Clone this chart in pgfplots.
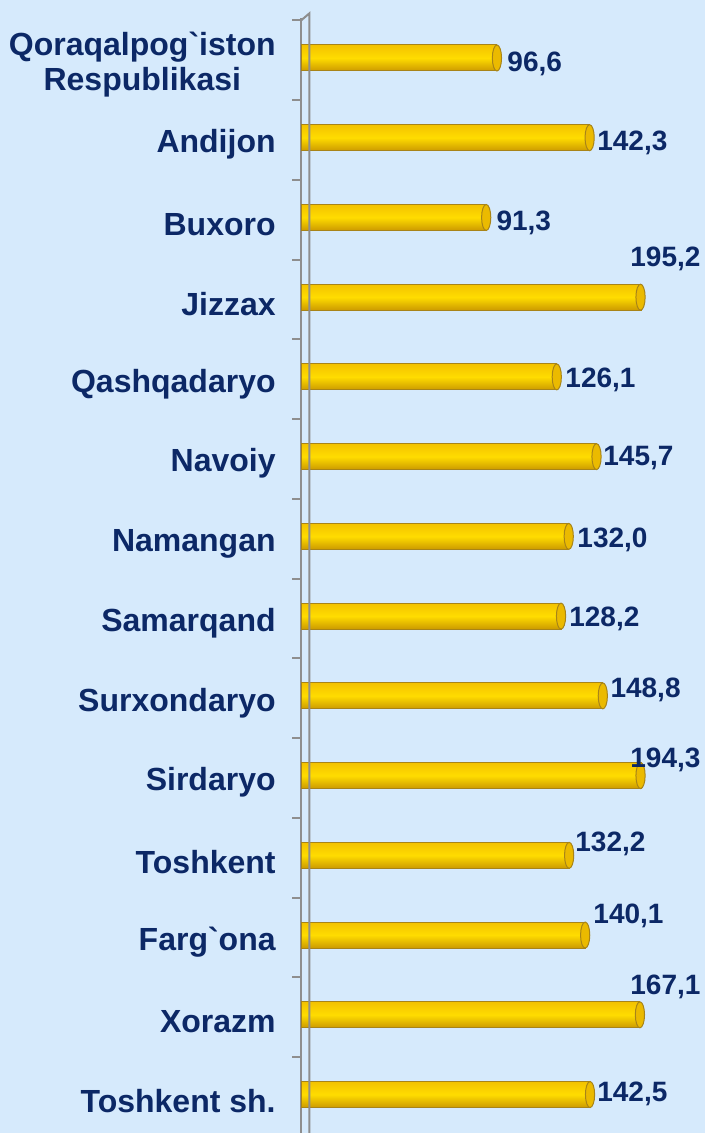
\documentclass[border=0pt]{standalone}
\usepackage{fontspec}
\setmainfont{Liberation Sans}
\usepackage{pgfplots}
\usepackage{pgfplotstable}
\pgfplotsset{compat=1.18}

\definecolor{bg}{HTML}{D6EAFC}
\definecolor{navy}{HTML}{0C2866}
\definecolor{axgray}{HTML}{8E8E8E}
\definecolor{goldtop}{HTML}{F3C200}
\definecolor{goldmid}{HTML}{FFDC00}
\definecolor{goldbot}{HTML}{CC9A00}
\definecolor{goldedge}{HTML}{A88418}

% cylinder end cap
\pgfdeclareplotmark{cap}{%
  \pgfpathellipse{\pgfpointorigin}{\pgfpoint{2.3bp}{0pt}}{\pgfpoint{0pt}{6.5bp}}%
  \pgfusepath{fill,stroke}}

\pgfplotstableread{
y v
0 96.6
1 142.3
2 91.3
3 195.2
4 126.1
5 145.7
6 132.0
7 128.2
8 148.8
9 194.3
10 132.2
11 140.1
12 167.1
13 142.5
}\vals

% value labels: left edge x, centre y, text
\pgfplotstableread{
lx ly lab
101.6 0.07 96,6
145.9 1.06 142,3
96.2 2.07 91,3
162.2 2.52 195,2
130.2 4.04 126,1
148.9 5.02 145,7
136.1 6.05 132,0
132.1 7.04 128,2
152.4 7.92 148,8
162.2 8.80 194,3
135.1 9.86 132,2
144.0 10.76 140,1
162.2 11.65 167,1
145.9 12.99 142,5
}\labs

\begin{document}
\begin{tikzpicture}
\fill[bg] (-150.5bp,0.7bp) rectangle (202bp,567.15bp);
\begin{axis}[
  scale only axis,
  width=170.35bp, height=558.1bp,
  xmin=0, xmax=168,
  ymin=-0.5, ymax=13.5,
  y dir=reverse,
  axis x line=none,
  axis y line*=left,
  y axis line style={axgray, line width=1bp},
  ytick={0,...,13},
  yticklabels={{Qoraqalpog\textasciigrave iston\\Respublikasi},Andijon,Buxoro,Jizzax,Qashqadaryo,Navoiy,Namangan,Samarqand,Surxondaryo,Sirdaryo,Toshkent,{Farg\textasciigrave ona},Xorazm,{Toshkent sh.}},
  yticklabel style={align=center, inner sep=0pt, xshift=-12.5bp, yshift=-3.5bp, text=navy,
    font=\bfseries\fontsize{16bp}{17.5bp}\selectfont},
  minor ytick={-0.47,0.53,...,12.6},
  major tick length=0pt,
  minor tick length=4.5bp,
  tick align=outside,
  minor tick style={axgray, line width=1bp},
  clip mode=individual,
]
% one plot per bar so that each bar gets its own cylinder shading
\pgfplotsinvokeforeach{0,...,13}{
\addplot[xbar, bar width=13bp, draw=goldedge, line width=0.5bp,
  top color=goldtop, bottom color=goldbot, middle color=goldmid,
  restrict expr to domain={\coordindex}{#1:#1}]
  table[x=v, y=y] \vals;
}
\addplot[only marks, mark=cap, mark options={fill=goldtop!80!goldbot, draw=goldedge, line width=0.5bp}]
  table[x expr={min(\thisrow{v},167.4)}, y=y] \vals;
\addplot[draw=none, mark=none, nodes near coords, point meta=explicit symbolic,
  nodes near coords style={anchor=west, inner sep=0pt, text=navy,
    font=\bfseries\fontsize{14bp}{16bp}\selectfont}]
  table[x=lx, y=ly, meta=lab] \labs;
\draw[axgray, line width=1bp] (axis cs:0,-0.47) -- ([xshift=4.2bp]axis cs:0,-0.56) -- ([xshift=4.2bp]axis cs:0,13.6);
\end{axis}
\pgfresetboundingbox
\useasboundingbox (-150.5bp,0.7bp) rectangle (202bp,567.15bp);
\end{tikzpicture}
\end{document}
